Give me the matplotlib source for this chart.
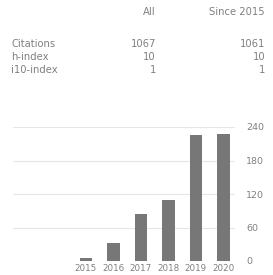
import matplotlib.pyplot as plt

years = ["2015", "2016", "2017", "2018", "2019", "2020"]
cites = [5, 32, 85, 110, 226, 228]
y_ticks = [0, 60, 120, 180, 240]

col_heads = ["All", "Since 2015"]
row_names = ["Citations", "h-index", "i10-index"]
all_vals = ["1067", "10", "1"]
since_vals = ["1061", "10", "1"]

W, H = 273, 275
fig = plt.figure(figsize=(W / 100, H / 100), dpi=100)
txt = "#808080"
fs = 7.2

# stats table at the top
fig.text(156 / W, 1 - 12 / H, col_heads[0], ha="right", va="center", fontsize=fs, color=txt)
fig.text(265 / W, 1 - 12 / H, col_heads[1], ha="right", va="center", fontsize=fs, color=txt)
for i, name in enumerate(row_names):
    y = 1 - (44 + 13 * i) / H
    fig.text(11 / W, y, name, ha="left", va="center", fontsize=fs, color=txt)
    fig.text(156 / W, y, all_vals[i], ha="right", va="center", fontsize=fs, color=txt)
    fig.text(265 / W, y, since_vals[i], ha="right", va="center", fontsize=fs, color=txt)

# citations per year chart
ax = fig.add_axes([13 / W, (H - 261) / H, (235 - 13) / W, (261 - 127) / H])
x = list(range(len(years)))
ax.bar(x, cites, width=0.45, color="#777777", zorder=2)
ax.set_xlim(-2.65, 5.42)
ax.set_ylim(0, 240)
for v in y_ticks[1:]:
    ax.axhline(v, color="#e6e6e6", linewidth=0.8, zorder=1)
ax.set_xticks(x)
ax.set_xticklabels(years, fontsize=6.3, color=txt)
ax.set_yticks(y_ticks)
ax.set_yticklabels([str(v) for v in y_ticks], fontsize=6.8, color=txt)
ax.yaxis.tick_right()
ax.tick_params(length=0, pad=2)
ax.tick_params(axis="y", pad=8)
for s in ax.spines.values():
    s.set_visible(False)

fig.savefig("out.png", dpi=100)
